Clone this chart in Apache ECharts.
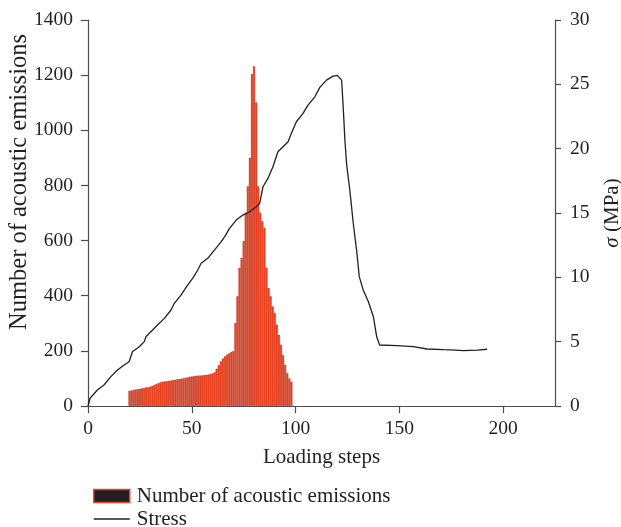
<!DOCTYPE html>
<html>
<head>
<meta charset="utf-8">
<script src="https://cdn.jsdelivr.net/npm/echarts@6/dist/echarts.min.js"></script>
<style>html,body{margin:0;padding:0;background:#fff}#c{width:621px;height:527px}</style>
</head>
<body>
<div id="c"></div>
<script>
// Loading steps of the acoustic emission bars
var barSteps = [20,21,22,23,24,25,26,27,28,29,30,31,32,33,34,35,36,37,38,39,40,41,42,43,44,45,46,47,48,49,
  50,51,52,53,54,55,56,57,58,59,60,61,62,63,64,65,66,67,68,69,70,71,72,73,74,75,76,77,78,79,
  80,81,82,83,84,85,86,87,88,89,90,91,92,93,94,95,96,97,98];
// Number of acoustic emissions at each step
var aeCounts = [55,57,58,60,61,62,64,65,67,68,70,73,76,80,83,86,88,89,90,91,92,94,95,97,98,99,100,102,104,106,
  107,108,109,110,110,111,112,113,114,116,118,122,135,148,162,172,180,186,191,196,199,301,398,501,537,598,701,797,900,1204,
  1232,1101,797,701,670,646,501,428,398,361,337,295,258,222,185,149,119,100,88];
// Stress curve: loading step and stress (MPa)
var stressSteps = [0,1,4.5,7.7,11,14.2,17.4,19.8,21.4,24.7,27.1,27.9,30.3,33.5,36.8,40,41.6,44.8,48,50.4,52.9,54.5,57.7,60.9,64.2,65.8,
  68.2,71.4,74.6,77.9,81.1,82.7,84.3,86.7,89.1,91.5,96.4,98,100.4,103.6,106,109.3,111.7,114.9,118.1,120.1,122.2,123,123.8,124.6,126.2,
  127.8,129.4,130.7,132.6,135.1,137.5,139.1,140.5,148.8,156.8,163.3,171.3,177,177.8,181,187.5,192.3];
var stressValues = [0,0.6,1.24,1.63,2.28,2.8,3.19,3.44,4.22,4.61,5.0,5.38,5.77,6.29,6.81,7.46,7.98,8.62,9.4,9.92,10.57,11.09,11.48,12.12,12.77,13.15,
  13.8,14.45,14.84,15.1,15.49,15.75,17.04,17.69,18.59,19.76,20.54,21.19,22.09,22.74,23.39,24.03,24.76,25.33,25.64,25.7,25.33,23.1,20.6,18.8,16.7,
  14.2,12.12,10.05,9.01,8.1,6.94,5.38,4.74,4.69,4.61,4.43,4.38,4.35,4.22,4.3,4.35,4.41];
var xTicks = {min: 0, max: 225, interval: 50};
var yLeftTicks = {min: 0, max: 1400, interval: 200};
var yRightTicks = {min: 0, max: 30, interval: 5};

var barData = barSteps.map(function (s, i) { return [s, aeCounts[i]]; });
var lineData = stressSteps.map(function (s, i) { return [s, stressValues[i]]; });

var FONT = '"Liberation Serif", "DejaVu Serif", serif';
var TXT = '#231f20';
var AX = '#4d4d4d';
var plain = function (v) { return String(v); };

var chart = echarts.init(document.getElementById('c'), null, {renderer: 'canvas'});
chart.setOption({
  animation: false,
  backgroundColor: '#fff',
  textStyle: {fontFamily: FONT, color: TXT},
  grid: {left: 88, right: 66, top: 20, bottom: 121, containLabel: false, outerBoundsMode: 'none'},
  legend: {
    orient: 'vertical', left: 88, top: 480, height: 80, itemWidth: 36, itemHeight: 13, itemGap: 1,
    textStyle: {fontFamily: FONT, fontSize: 21, color: TXT, lineHeight: 22, padding: [0, 0, 0, 2]},
    data: [
      {name: 'Number of acoustic emissions', icon: 'rect', itemStyle: {color: '#231f20', borderColor: '#e8452a', borderWidth: 1.5}},
      {name: 'Stress', icon: 'path://M0,0 H36 V1.3 H0 Z', itemStyle: {color: '#231f20', borderWidth: 0}}
    ]
  },
  xAxis: {
    type: 'value', min: xTicks.min, max: xTicks.max, interval: xTicks.interval,
    name: 'Loading steps', nameLocation: 'middle', nameGap: 41, nameMoveOverlap: false,
    nameTextStyle: {fontFamily: FONT, fontSize: 21, color: TXT},
    axisLine: {show: true, lineStyle: {color: AX, width: 1.2}},
    axisTick: {show: true, length: 7, lineStyle: {color: AX, width: 1.2}},
    axisLabel: {fontFamily: FONT, fontSize: 19.5, color: TXT, margin: 13, formatter: plain,
      showMaxLabel: false},
    splitLine: {show: false}
  },
  yAxis: [
    {
      type: 'value', position: 'left', min: yLeftTicks.min, max: yLeftTicks.max, interval: yLeftTicks.interval,
      name: 'Number of acoustic emissions', nameLocation: 'middle', nameGap: 56, nameMoveOverlap: false,
      nameTextStyle: {fontFamily: FONT, fontSize: 24.5, color: TXT, padding: [0, 0, 0, 62]},
      axisLine: {show: true, lineStyle: {color: AX, width: 1.2}},
      axisTick: {show: true, length: 7, lineStyle: {color: AX, width: 1.2}},
      axisLabel: {fontFamily: FONT, fontSize: 19.5, color: TXT, margin: 15, formatter: plain},
      splitLine: {show: false}
    },
    {
      type: 'value', position: 'right', min: yRightTicks.min, max: yRightTicks.max, interval: yRightTicks.interval,
      name: '{i|σ} (MPa)', nameLocation: 'middle', nameGap: 47, nameMoveOverlap: false,
      nameTextStyle: {fontFamily: FONT, fontSize: 21, color: TXT,
        rich: {i: {fontFamily: FONT, fontSize: 21, fontStyle: 'italic', color: TXT}}},
      axisLine: {show: true, lineStyle: {color: AX, width: 1.2}},
      axisTick: {show: true, length: 6, lineStyle: {color: AX, width: 1.2}},
      axisLabel: {fontFamily: FONT, fontSize: 19.5, color: TXT, margin: 15, formatter: plain},
      splitLine: {show: false}
    }
  ],
  series: [
    {
      name: 'Number of acoustic emissions', type: 'bar', yAxisIndex: 0,
      data: barData, barWidth: '100%', barCategoryGap: '0%',
      itemStyle: {color: '#ee4422', borderColor: '#a52a15', borderWidth: 0.3}
    },
    {
      name: 'Stress', type: 'line', yAxisIndex: 1, data: lineData,
      symbol: 'none', smooth: false,
      lineStyle: {color: '#231f20', width: 1.3}
    }
  ]
});
</script>
</body>
</html>
